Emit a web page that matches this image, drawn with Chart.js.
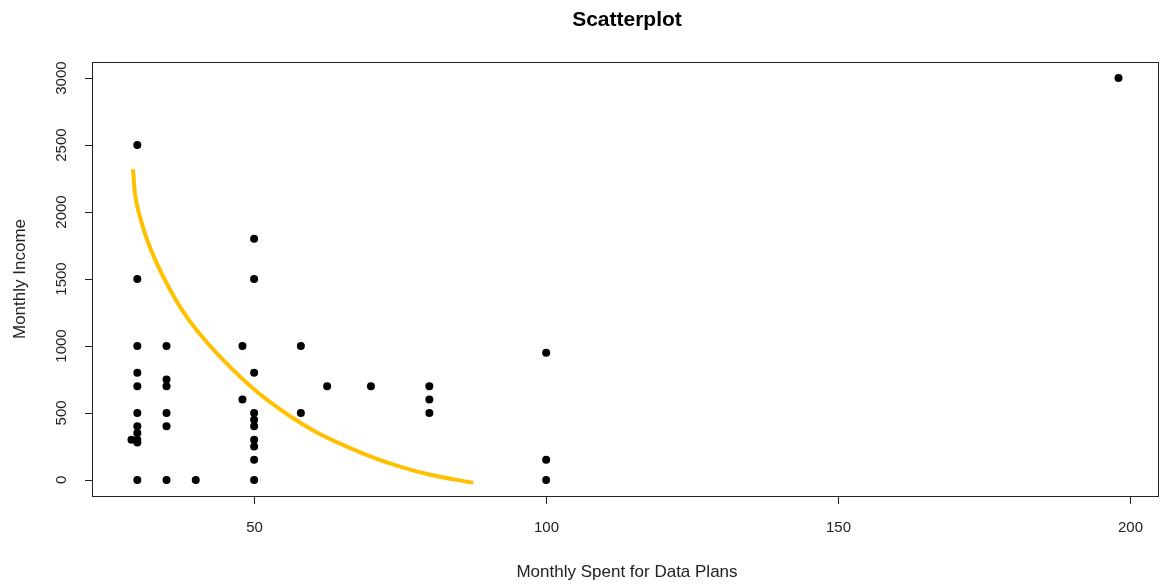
<!DOCTYPE html>
<html>
<head>
<meta charset="utf-8">
<script src="https://cdn.jsdelivr.net/npm/chart.js@4.4.1/dist/chart.umd.min.js"></script>
<style>
  body { margin: 0; background: #fff; }
  #wrap { width: 1162px; height: 585px; }
</style>
</head>
<body>
<div id="wrap"><canvas id="grafico"></canvas></div>
<script>
// dados
const gastoMensal = [30, 30, 30, 30, 30, 30, 30, 30, 30, 30, 29, 30,
  35, 35, 35, 35, 35, 35, 40, 48, 48,
  50, 50, 50, 50, 50, 50, 50, 50, 50, 50,
  58, 58, 62.5, 70, 80, 80, 80, 100, 100, 100, 198];
const rendaMensal = [2500, 1500, 1000, 800, 700, 500, 400, 350, 300, 280, 300, 0,
  1000, 750, 700, 500, 400, 0, 0, 1000, 600,
  1800, 1500, 800, 500, 450, 400, 300, 250, 150, 0,
  1000, 500, 700, 700, 700, 600, 500, 950, 150, 0, 3000];

// curva ajustada (amarela)
const curvaX = [29.25, 29.9, 32.4, 36.65, 40.6, 46.3, 52, 59.9, 68.5, 74.2, 79.8, 87.5];
const curvaY = [2320, 2060, 1710, 1340, 1095, 825, 605, 375, 200, 110, 42, -22];

const ticksX = [50, 100, 150, 200];
const ticksY = [0, 500, 1000, 1500, 2000, 2500, 3000];

const fonte = "'Liberation Sans', Arial, sans-serif";

function juntar(xs, ys) {
  return xs.map((x, i) => ({ x: x, y: ys[i] }));
}

// desenha caixa, eixos e textos no estilo do R
const eixosR = {
  id: "eixosR",
  afterDraw(chart) {
    const ctx = chart.ctx;
    const a = chart.chartArea;
    const sx = chart.scales.x;
    const sy = chart.scales.y;
    ctx.save();
    ctx.strokeStyle = "#222";
    ctx.lineWidth = 1;
    ctx.strokeRect(a.left + 0.5, a.top + 0.5, a.right - a.left, a.bottom - a.top);

    ctx.fillStyle = "#222";
    // eixo x
    ctx.font = "15px " + fonte;
    ctx.textAlign = "center";
    ctx.textBaseline = "middle";
    ctx.beginPath();
    ticksX.forEach(v => {
      const px = Math.round(sx.getPixelForValue(v)) + 0.5;
      ctx.moveTo(px, a.bottom);
      ctx.lineTo(px, a.bottom + 8);
      ctx.fillText(String(v), px, 528);
    });
    ctx.stroke();

    // eixo y
    const y0 = Math.round(sy.getPixelForValue(ticksY[0])) + 0.5;
    const y1 = Math.round(sy.getPixelForValue(ticksY[ticksY.length - 1])) + 0.5;
    ctx.beginPath();
    ctx.moveTo(a.left + 0.5, y0);
    ctx.lineTo(a.left + 0.5, y1);
    ticksY.forEach(v => {
      const py = Math.round(sy.getPixelForValue(v)) + 0.5;
      ctx.moveTo(a.left + 0.5, py);
      ctx.lineTo(a.left - 7, py);
    });
    ctx.stroke();
    ticksY.forEach(v => {
      const py = sy.getPixelForValue(v);
      ctx.save();
      ctx.translate(62, py);
      ctx.rotate(-Math.PI / 2);
      ctx.fillText(String(v), 0, 0);
      ctx.restore();
    });

    // titulos
    ctx.font = "17px " + fonte;
    ctx.fillText("Monthly Spent for Data Plans", (a.left + a.right) / 2 + 2, 572);
    ctx.save();
    ctx.translate(20, (a.top + a.bottom) / 2);
    ctx.rotate(-Math.PI / 2);
    ctx.fillText("Monthly Income", 0, 0);
    ctx.restore();

    ctx.fillStyle = "#000";
    ctx.font = "bold 21px " + fonte;
    ctx.fillText("Scatterplot", (a.left + a.right) / 2 + 2, 20);
    ctx.restore();
  }
};

const grafico = new Chart(document.getElementById("grafico"), {
  type: "scatter",
  data: {
    datasets: [
      {
        label: "curva",
        type: "line",
        data: juntar(curvaX, curvaY),
        borderColor: "#FFC000",
        borderWidth: 4,
        pointRadius: 0,
        fill: false,
        tension: 0.4,
        order: 0,
      },
      {
        label: "dados",
        data: juntar(gastoMensal, rendaMensal),
        backgroundColor: "#000",
        borderWidth: 0,
        pointRadius: 4,
        pointHoverRadius: 4,
        order: 1,
      },
    ],
  },
  options: {
    responsive: true,
    maintainAspectRatio: false,
    animation: false,
    clip: false,
    layout: { padding: { left: 92, top: 62, right: 2, bottom: 89 } },
    plugins: { legend: { display: false }, tooltip: { enabled: false } },
    scales: {
      x: { type: "linear", min: 22.24, max: 204.76, display: false },
      y: { type: "linear", min: -120, max: 3120, display: false },
    },
  },
  plugins: [eixosR],
});
</script>
</body>
</html>
